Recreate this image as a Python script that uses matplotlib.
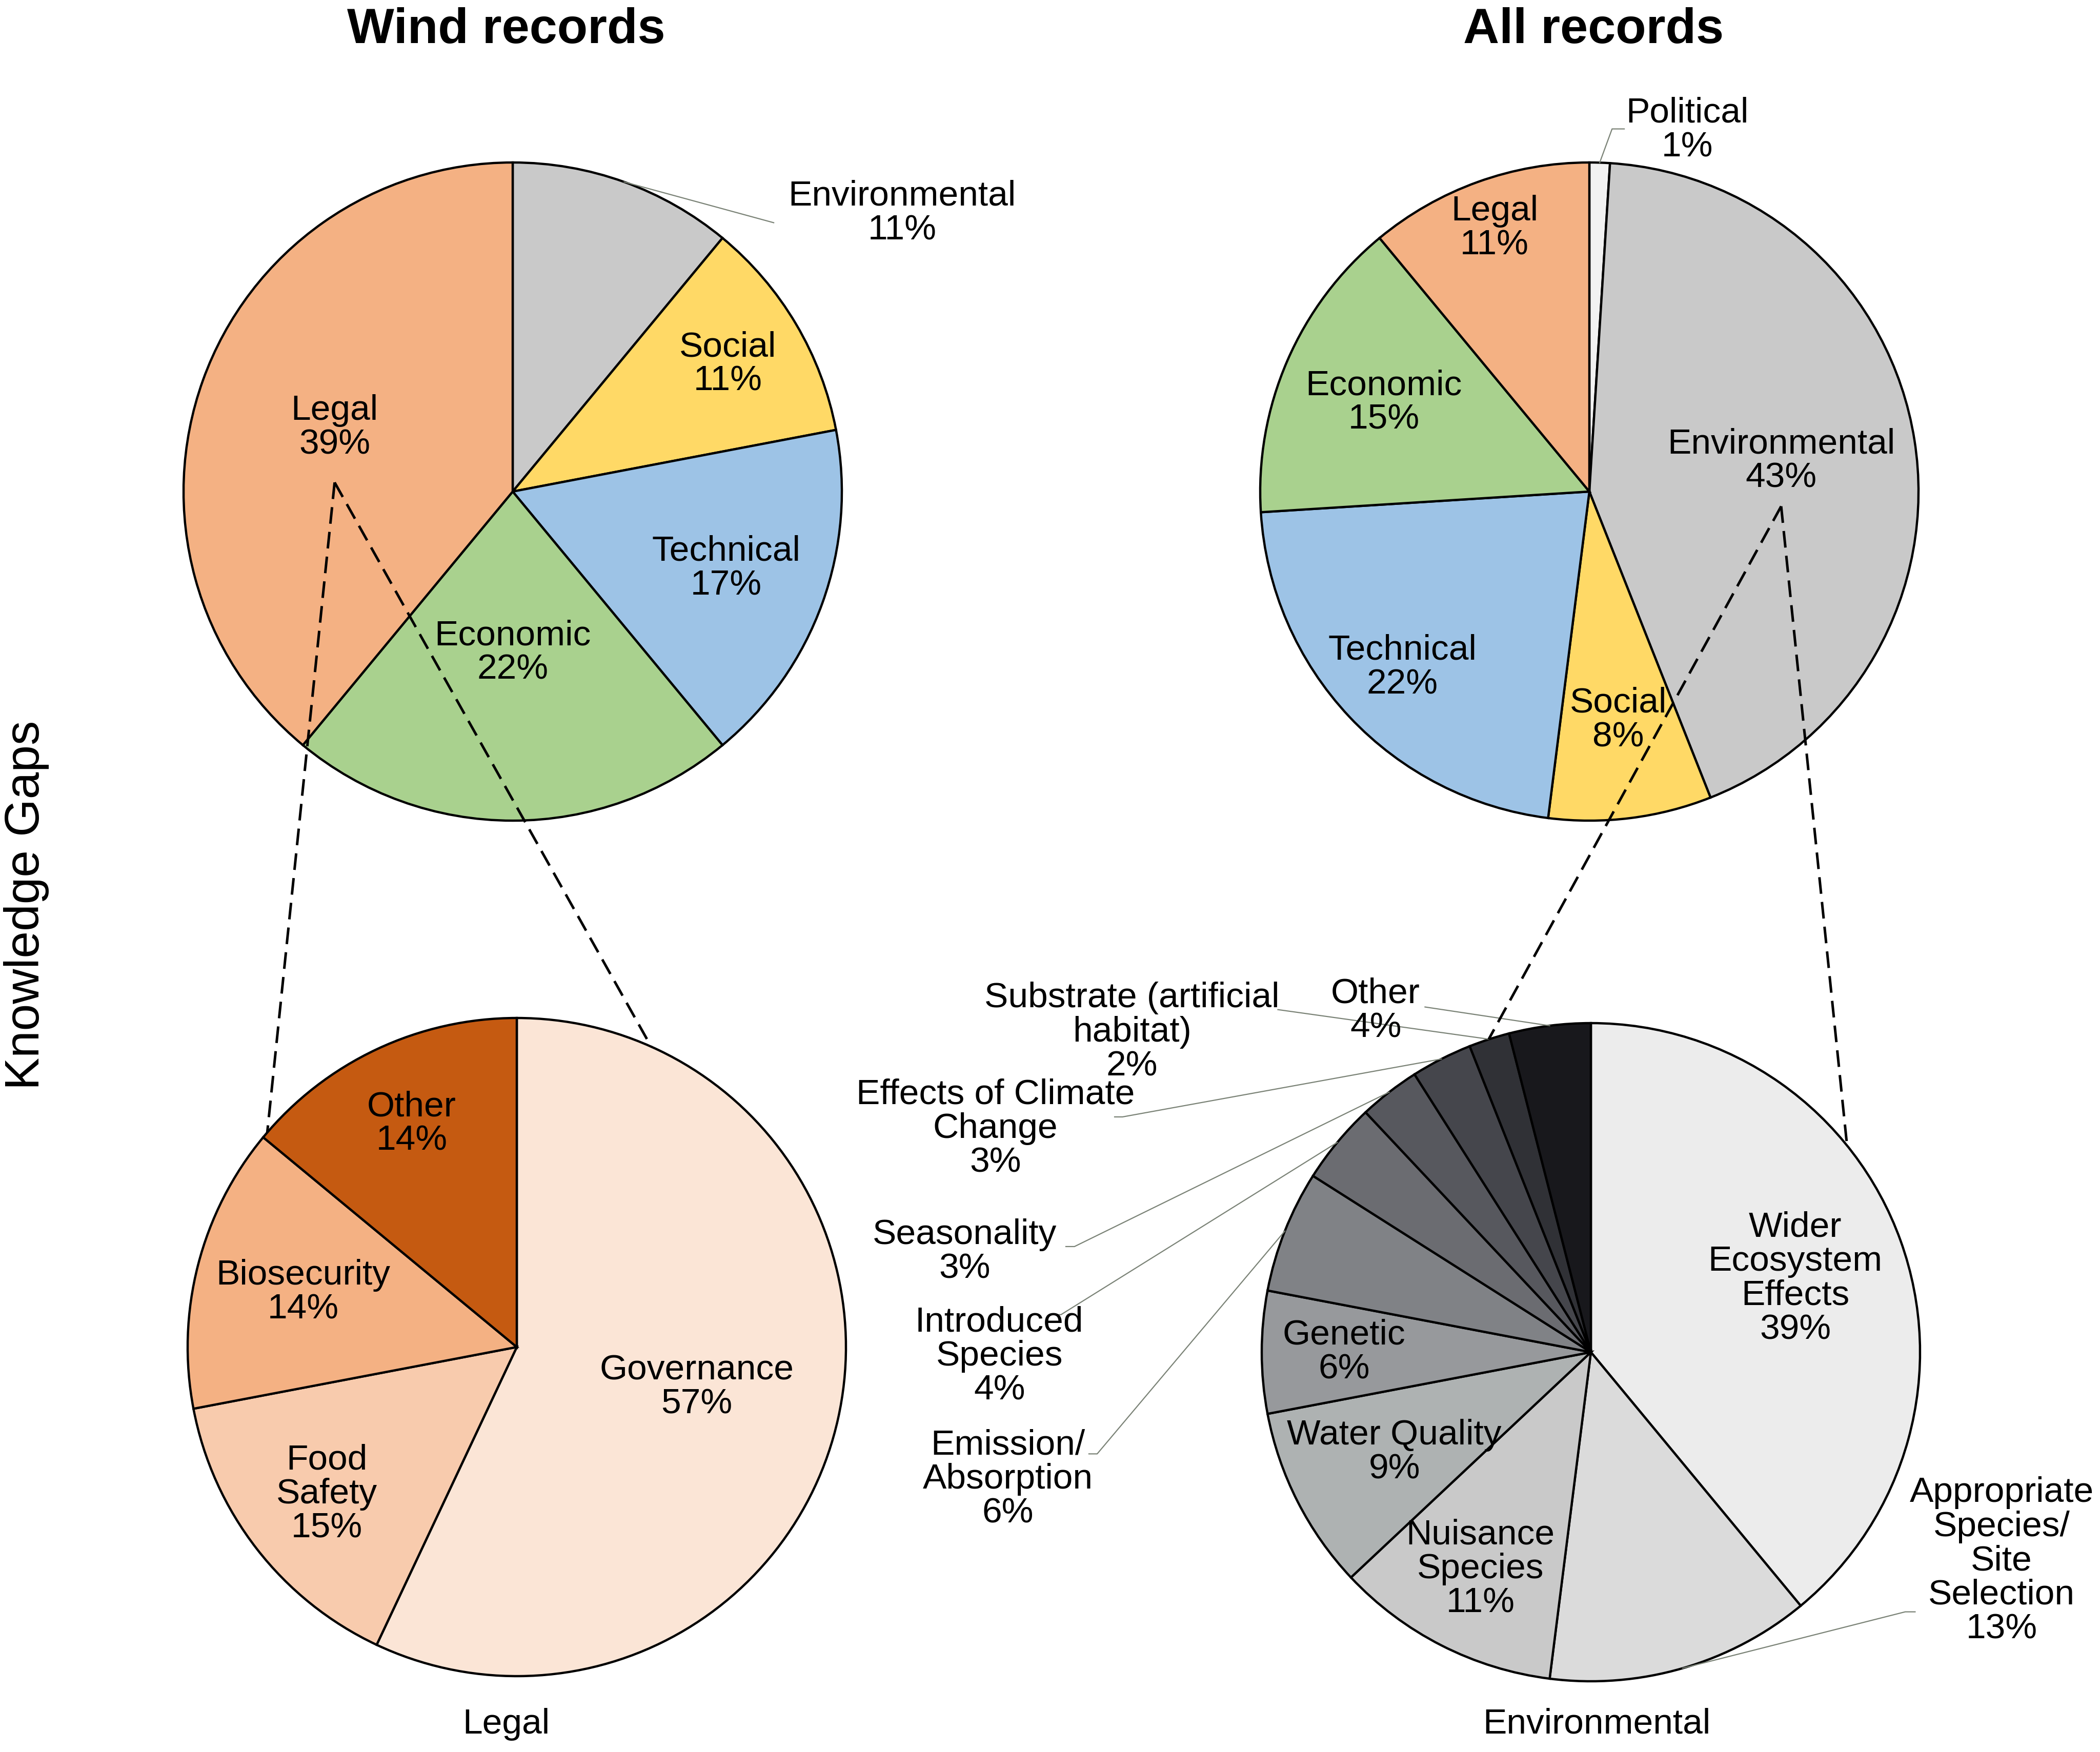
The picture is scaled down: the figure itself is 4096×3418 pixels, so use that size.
import numpy as np
import matplotlib.pyplot as plt

plt.rcParams['font.family'] = ['Liberation Sans', 'DejaVu Sans']

W, H = 4096, 3418
R = 642

# ---- data ----
wind_cats = ['Environmental', 'Social', 'Technical', 'Economic', 'Legal']
wind_vals = [11, 11, 17, 22, 39]
wind_colors = ['#c9c9c9', '#ffd966', '#9dc3e6', '#a9d18e', '#f4b183']

legal_cats = ['Governance', 'Food\nSafety', 'Biosecurity', 'Other']
legal_vals = [57, 15, 14, 14]
legal_colors = ['#fbe5d6', '#f8cbad', '#f4b183', '#c55a11']

all_cats = ['Political', 'Environmental', 'Social', 'Technical', 'Economic', 'Legal']
all_vals = [1, 43, 8, 22, 15, 11]
all_colors = ['#f2f2f2', '#c9c9c9', '#ffd966', '#9dc3e6', '#a9d18e', '#f4b183']

env_cats = ['Wider\nEcosystem\nEffects', 'Appropriate\nSpecies/\nSite\nSelection',
            'Nuisance\nSpecies', 'Water Quality', 'Genetic', 'Emission/\nAbsorption',
            'Introduced\nSpecies', 'Seasonality', 'Effects of Climate\nChange',
            'Substrate (artificial\nhabitat)', 'Other']
env_vals = [39, 13, 11, 9, 6, 6, 4, 3, 3, 2, 4]
env_colors = ['#ececec', '#dbdbdb', '#c9c9c9', '#aeb2b2', '#97999c', '#808286',
              '#6b6c71', '#57585e', '#45464c', '#303136', '#18181c']

# ---- label placement (fraction of radius for inside labels,
#      (text offset, leader points) for outside labels) ----
wind_place = [((1.183, 0.846), [(0.793, 0.817)]), 0.76, 0.69, 0.49, 0.575]
legal_place = [0.56, 0.73, 0.67, 0.75]
all_place = [((0.297, 1.098), [(0.069, 1.102), (0.106, 1.102)]), 0.59, 0.70, 0.78, 0.68, 0.85]
env_place = [0.66,
             ((1.248, -0.634), [(0.955, -0.789), (0.985, -0.789)]),
             0.74, 0.67, 0.75,
             ((-1.772, -0.386), [(-1.50, -0.309), (-1.525, -0.309)]),
             ((-1.797, -0.012), [(-1.61, 0.114), (-1.64, 0.114)]),
             ((-1.902, 0.305), [(-1.569, 0.321), (-1.595, 0.321)]),
             ((-1.809, 0.679), [(-1.423, 0.715), (-1.447, 0.715)]),
             ((-1.394, 0.972), [(-0.951, 1.041)]),
             ((-0.654, 1.037), [(-0.504, 1.049)])]

FS = 50
LS = 1.05
LEAD = '#7a8276'


def to(x, y):
    return (x, H - y)


def draw_pie(ax, c, cats, vals, colors, place):
    wedges, _ = ax.pie(vals, colors=colors, startangle=90, counterclock=False,
                       radius=R, center=c, frame=True,
                       wedgeprops=dict(edgecolor='black', linewidth=3.2))
    pos = []
    for w, cat, v, p in zip(wedges, cats, vals, place):
        mid = np.deg2rad((w.theta1 + w.theta2) / 2)
        txt = f'{cat}\n{v}%'
        if np.isscalar(p):
            x, y = c[0] + p * R * np.cos(mid), c[1] + p * R * np.sin(mid)
        else:
            (tx, ty), pts = p
            x, y = c[0] + tx * R, c[1] + ty * R
            xs = [c[0] + R * np.cos(mid)] + [c[0] + px * R for px, py in pts]
            ys = [c[1] + R * np.sin(mid)] + [c[1] + py * R for px, py in pts]
            ax.plot(xs, ys, color=LEAD, lw=1.6, zorder=3)
        ax.text(x, y, txt, ha='center', va='center', fontsize=FS,
                linespacing=LS, zorder=5)
        pos.append((x, y))
    return pos


def rim(c, a):
    # point on rim, angle a measured clockwise from the top
    a = np.deg2rad(a)
    return c[0] + R * np.sin(a), c[1] + R * np.cos(a)


def dashed(ax, apex, ends):
    for e in ends:
        ax.plot([apex[0], e[0]], [apex[1], e[1]], color='black', lw=3.6,
                dashes=(6.5, 3.2), zorder=4)


fig = plt.figure(figsize=(W / 100, H / 100), dpi=100)
ax = fig.add_axes([0, 0, 1, 1])

c_tl, c_tr = to(1000, 959), to(3100, 959)
c_bl, c_br = to(1008, 2628), to(3103, 2638)

p_wind = draw_pie(ax, c_tl, wind_cats, wind_vals, wind_colors, wind_place)
draw_pie(ax, c_bl, legal_cats, legal_vals, legal_colors, legal_place)
p_all = draw_pie(ax, c_tr, all_cats, all_vals, all_colors, all_place)
draw_pie(ax, c_br, env_cats, env_vals, env_colors, env_place)

# zoom-in connectors
lx, ly = p_wind[4]
dashed(ax, (lx, ly - 0.167 * R), [rim(c_bl, 310.7), rim(c_bl, 24.1)])
ex, ey = p_all[1]
dashed(ax, (ex, ey - 0.137 * R), [rim(c_br, 341.9), rim(c_br, 51.1)])

ax.text(*to(987, 84), 'Wind records', ha='center', va='baseline',
        fontsize=70, fontweight='bold')
ax.text(*to(3108, 84), 'All records', ha='center', va='baseline',
        fontsize=70, fontweight='bold')
ax.text(*to(52, 1766), 'Knowledge Gaps', ha='center', va='center',
        rotation=90, fontsize=68)
ax.text(*to(987, 3364), 'Legal', ha='center', va='center', fontsize=FS)
ax.text(*to(3114, 3364), 'Environmental', ha='center', va='center', fontsize=FS)

ax.set_xlim(0, W)
ax.set_ylim(0, H)
ax.set_aspect('equal')
ax.axis('off')

fig.savefig('out.png', dpi=100, facecolor='white')
